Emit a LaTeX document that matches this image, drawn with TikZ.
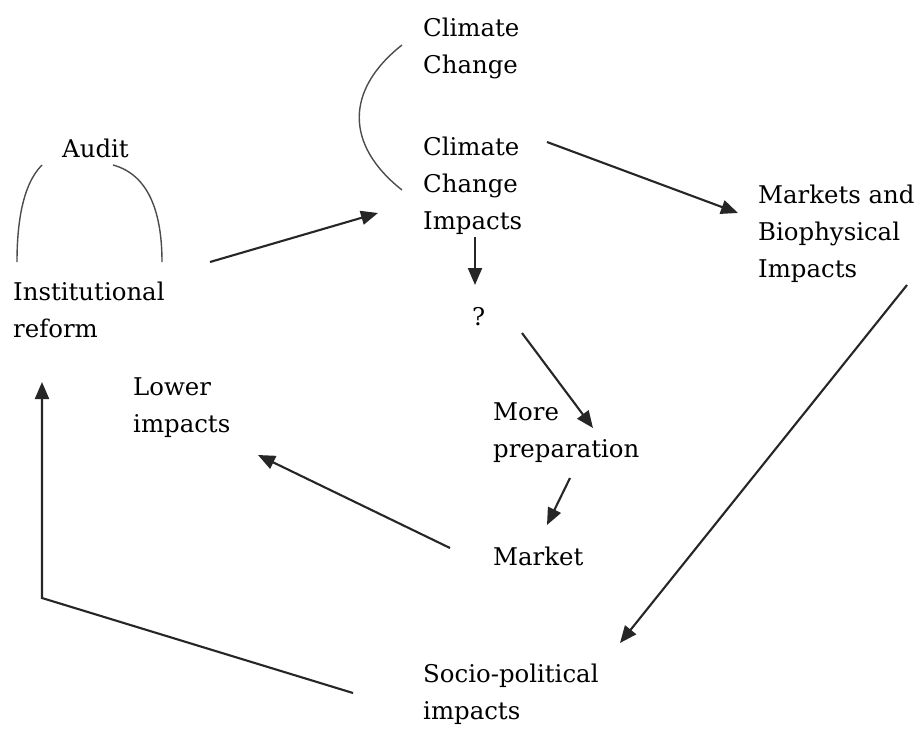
\documentclass[tikz,border=0pt]{standalone}
\usepackage{fontspec}
\setmainfont{DejaVu Serif}
\usetikzlibrary{arrows.meta}
\begin{document}
\begin{tikzpicture}[x=1pt,y=-1pt,
  lbl/.style={anchor=base west,inner sep=0pt,align=left,font=\fontsize{24.4}{37}\selectfont},
  arr/.style={draw=black!85,line width=2.1pt,-{Triangle[length=17pt,width=14pt]}},
  arc/.style={draw=black!70,line width=1.4pt}]
\useasboundingbox[fill=white] (0,0) rectangle (920,728);
% multi-line nodes: base anchor is on the last line
\node[lbl] (cc) at (423,73) {Climate\\Change};
\node[lbl] (cci) at (423,229) {Climate\\Change\\Impacts};
\node[lbl] (audit) at (62,157) {Audit};
\node[lbl] (inst) at (13,337) {Institutional\\reform};
\node[lbl] (mbi) at (758,277) {Markets and\\Biophysical\\Impacts};
\node[lbl] (q) at (472,325) {?};
\node[lbl] (lower) at (133,432) {Lower\\impacts};
\node[lbl] (prep) at (493,457) {More\\preparation};
\node[lbl] (market) at (493,565) {Market};
\node[lbl] (socio) at (423,719) {Socio-political\\impacts};
% arcs
\draw[arc] ([shift={(-21,-28)}]cc.base west) .. controls (345,90) and (345,145) .. ([shift={(-21,-39)}]cci.base west);
\draw[arc] ([shift={(-20,8)}]audit.base west) .. controls (22,185) and (17,225) .. ([shift={(4,-75)}]inst.base west);
\draw[arc] ([shift={(51,8)}]audit.base west) .. controls (150,175) and (162,215) .. ([shift={(149,-75)}]inst.base west);
% arrows
\draw[arr] ([shift={(197,-75)}]inst.base west) -- ([shift={(-45,-16)}]cci.base west);
\draw[arr] ([shift={(124,-87)}]cci.base west) -- ([shift={(-20,-64)}]mbi.base west);
\draw[arr] ([shift={(52,8)}]cci.base west) -- ([shift={(3,-40)}]q.base west);
\draw[arr] ([shift={(50,8)}]q.base west) -- ([shift={(100,-29)}]prep.base west);
\draw[arr] ([shift={(77,21)}]prep.base west) -- ([shift={(54,-40)}]market.base west);
\draw[arr] ([shift={(-43,-17)}]market.base west) -- ([shift={(125,23)}]lower.base west);
\draw[arr] ([shift={(149,8)}]mbi.base west) -- ([shift={(197,-76)}]socio.base west);
\coordinate (corner) at (42,598);
\draw[arr] ([shift={(-70,-26)}]socio.base west) -- (corner) -- ([shift={(29,45)}]inst.base west);
\end{tikzpicture}
\end{document}
